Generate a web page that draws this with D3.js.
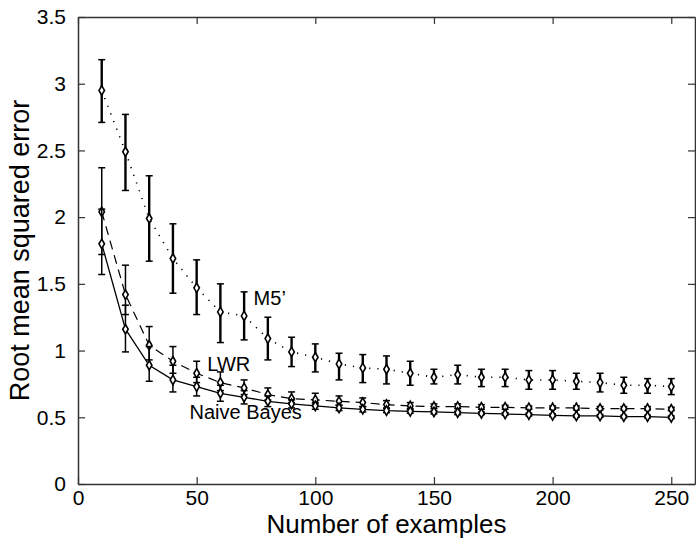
<!DOCTYPE html>
<html>
<head>
<meta charset="utf-8">
<script src="https://cdn.jsdelivr.net/npm/d3@7"></script>
<style>
  body { margin: 0; background: #fff; }
  svg text { font-family: "Liberation Sans", Arial, sans-serif; fill: #000; }
</style>
</head>
<body>
<svg id="chart" width="696" height="540"></svg>
<script>
// number of examples used for training
let examples = [10, 20, 30, 40, 50, 60, 70, 80, 90, 100, 110, 120, 130, 140, 150, 160, 170, 180, 190, 200, 210, 220, 230, 240, 250]

// M5' (dotted)
let m5Mean  = [2.95, 2.49, 1.99, 1.69, 1.47, 1.29, 1.26, 1.09, 0.99, 0.95, 0.90, 0.87, 0.86, 0.83, 0.80, 0.82, 0.80, 0.80, 0.78, 0.78, 0.77, 0.76, 0.74, 0.74, 0.73]
let m5Upper = [3.18, 2.77, 2.31, 1.95, 1.68, 1.50, 1.44, 1.25, 1.10, 1.05, 0.98, 0.97, 0.96, 0.92, 0.86, 0.89, 0.86, 0.86, 0.85, 0.85, 0.83, 0.83, 0.80, 0.79, 0.79]
let m5Lower = [2.71, 2.20, 1.67, 1.43, 1.27, 1.06, 1.08, 0.93, 0.88, 0.84, 0.78, 0.76, 0.75, 0.74, 0.75, 0.75, 0.73, 0.73, 0.71, 0.71, 0.71, 0.69, 0.68, 0.68, 0.67]

// LWR (dashed)
let lwrMean  = [2.04, 1.42, 1.04, 0.92, 0.83, 0.76, 0.72, 0.67, 0.64, 0.63, 0.62, 0.61, 0.595, 0.585, 0.58, 0.58, 0.575, 0.575, 0.57, 0.57, 0.57, 0.565, 0.565, 0.565, 0.56]
let lwrUpper = [2.37, 1.64, 1.18, 1.03, 0.92, 0.84, 0.78, 0.72, 0.69, 0.68, 0.66, 0.645, 0.625, 0.61, 0.60, 0.60, 0.595, 0.59, 0.585, 0.585, 0.585, 0.58, 0.58, 0.58, 0.575]
let lwrLower = [1.72, 1.27, 0.93, 0.83, 0.76, 0.70, 0.67, 0.63, 0.61, 0.60, 0.59, 0.58, 0.57, 0.565, 0.565, 0.565, 0.56, 0.56, 0.56, 0.56, 0.555, 0.555, 0.555, 0.555, 0.55]

// Naive Bayes (solid)
let nbMean  = [1.80, 1.16, 0.89, 0.78, 0.73, 0.68, 0.65, 0.62, 0.60, 0.585, 0.57, 0.56, 0.55, 0.545, 0.54, 0.535, 0.53, 0.525, 0.52, 0.515, 0.51, 0.51, 0.505, 0.505, 0.50]
let nbUpper = [2.06, 1.34, 1.03, 0.89, 0.80, 0.74, 0.70, 0.66, 0.63, 0.61, 0.59, 0.58, 0.565, 0.555, 0.55, 0.545, 0.54, 0.535, 0.53, 0.525, 0.52, 0.52, 0.515, 0.515, 0.51]
let nbLower = [1.57, 0.99, 0.77, 0.69, 0.66, 0.62, 0.60, 0.58, 0.57, 0.56, 0.55, 0.54, 0.535, 0.53, 0.525, 0.52, 0.52, 0.515, 0.51, 0.505, 0.50, 0.50, 0.495, 0.495, 0.49]

let xTicks = [0, 50, 100, 150, 200, 250]
let yTicks = [0, 0.5, 1, 1.5, 2, 2.5, 3, 3.5]

let margin = {top: 17, right: 1, bottom: 56, left: 78}
let totalWidth = 696
let totalHeight = 540
let width = totalWidth - margin.left - margin.right
let height = totalHeight - margin.top - margin.bottom

let svg = d3.select('#chart')
let g = svg.append('g')
    .attr('transform', 'translate(' + margin.left + ',' + margin.top + ')')

let x = d3.scaleLinear().domain([0, 260]).range([0, width])
let y = d3.scaleLinear().domain([0, 3.5]).range([height, 0])

let tickLen = 7
let axisColor = '#333'

// matlab style box with ticks pointing inward on every side
let bottomAxis = g.append('g')
    .attr('transform', 'translate(0,' + height + ')')
    .call(d3.axisBottom(x).tickValues(xTicks).tickSizeInner(-tickLen).tickSizeOuter(0).tickPadding(6))
let topAxis = g.append('g')
    .call(d3.axisTop(x).tickValues(xTicks).tickSizeInner(-tickLen).tickSizeOuter(0).tickFormat(''))
let leftAxis = g.append('g')
    .call(d3.axisLeft(y).tickValues(yTicks).tickSizeInner(-tickLen).tickSizeOuter(0).tickPadding(12).tickFormat(d3.format('')))
let rightAxis = g.append('g')
    .attr('transform', 'translate(' + width + ',0)')
    .call(d3.axisRight(y).tickValues(yTicks).tickSizeInner(-tickLen).tickSizeOuter(0).tickFormat(''))

for (let ax of [bottomAxis, topAxis, leftAxis, rightAxis]) {
    ax.select('.domain').attr('stroke', axisColor).attr('stroke-width', 1.5)
    ax.selectAll('.tick line').attr('stroke', axisColor).attr('stroke-width', 1.2)
    ax.selectAll('.tick text').style('font-size', '21px').attr('fill', '#000')
}

// axis titles
svg.append('text')
    .attr('x', margin.left + width / 2)
    .attr('y', 533)
    .attr('text-anchor', 'middle')
    .style('font-size', '26px')
    .text('Number of examples')

svg.append('text')
    .attr('transform', 'translate(29,' + (margin.top + height / 2) + ') rotate(-90)')
    .attr('text-anchor', 'middle')
    .style('font-size', '27px')
    .text('Root mean squared error')

let series = [
    {name: 'M5\u2019', mean: m5Mean, upper: m5Upper, lower: m5Lower, dash: '1.2,7', lineWidth: 1.6, barWidth: 2.4},
    {name: 'LWR', mean: lwrMean, upper: lwrUpper, lower: lwrLower, dash: '9,6', lineWidth: 1.2, barWidth: 1.5},
    {name: 'Naive Bayes', mean: nbMean, upper: nbUpper, lower: nbLower, dash: null, lineWidth: 1.3, barWidth: 1.5}
]

let line = d3.line()
    .x(d => x(d.x))
    .y(d => y(d.v))

let capHalf = 3.5

series.forEach(s => {
    let pts = examples.map((ex, i) => ({x: ex, v: s.mean[i], hi: s.upper[i], lo: s.lower[i]}))
    let sg = g.append('g')

    sg.append('path')
        .datum(pts)
        .attr('d', line)
        .attr('fill', 'none')
        .attr('stroke', '#000')
        .attr('stroke-width', s.lineWidth)
        .attr('stroke-dasharray', s.dash)

    // error bars
    let bars = sg.selectAll('.err')
        .data(pts)
        .enter().append('g')
        .attr('class', 'err')
    bars.append('line')
        .attr('x1', d => x(d.x)).attr('x2', d => x(d.x))
        .attr('y1', d => y(d.hi)).attr('y2', d => y(d.lo))
        .attr('stroke', '#000').attr('stroke-width', s.barWidth)
    bars.append('line')
        .attr('x1', d => x(d.x) - capHalf).attr('x2', d => x(d.x) + capHalf)
        .attr('y1', d => y(d.hi)).attr('y2', d => y(d.hi))
        .attr('stroke', '#000').attr('stroke-width', 1.5)
    bars.append('line')
        .attr('x1', d => x(d.x) - capHalf).attr('x2', d => x(d.x) + capHalf)
        .attr('y1', d => y(d.lo)).attr('y2', d => y(d.lo))
        .attr('stroke', '#000').attr('stroke-width', 1.5)

    // small open diamonds
    sg.selectAll('.marker')
        .data(pts)
        .enter().append('path')
        .attr('class', 'marker')
        .attr('transform', d => 'translate(' + x(d.x) + ',' + y(d.v) + ')')
        .attr('d', d3.symbol().type(d3.symbolDiamond).size(26))
        .attr('fill', '#fff')
        .attr('stroke', '#000')
        .attr('stroke-width', 1.6)
})

// in-plot labels
let labels = [
    {text: 'M5\u2019', xv: 74, yv: 1.34},
    {text: 'LWR', xv: 54.5, yv: 0.85},
    {text: 'Naive Bayes', xv: 47, yv: 0.49}
]
g.selectAll('.series-label')
    .data(labels)
    .enter().append('text')
    .attr('class', 'series-label')
    .attr('x', d => x(d.xv))
    .attr('y', d => y(d.yv))
    .style('font-size', '20px')
    .text(d => d.text)
</script>
</body>
</html>
